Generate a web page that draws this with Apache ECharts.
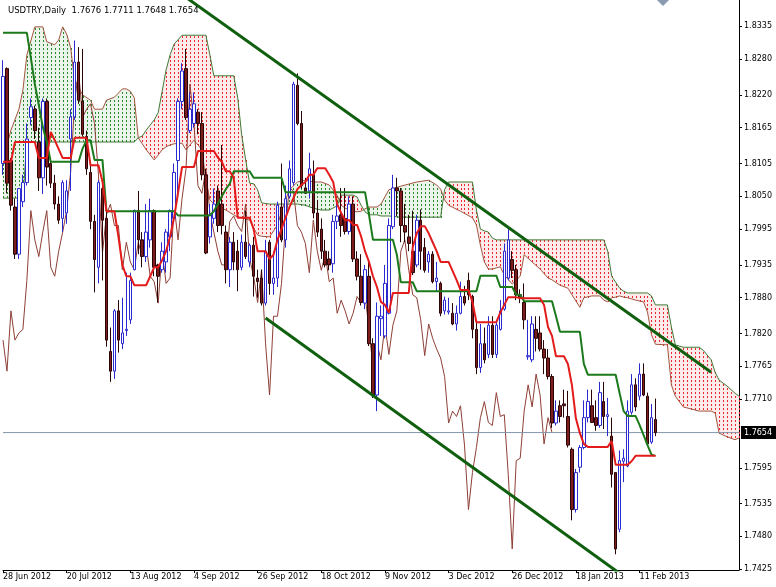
<!DOCTYPE html>
<html><head><meta charset="utf-8">
<script src="https://cdn.jsdelivr.net/npm/echarts@6/dist/echarts.min.js"></script>
<style>html,body{margin:0;padding:0;background:#fff}#c{width:776px;height:587px}</style>
</head><body><div id="c"></div>
<script>
const symbolName = 'USDTRY,Daily';
const tickDates = ['28 Jun 2012','20 Jul 2012','13 Aug 2012','4 Sep 2012','26 Sep 2012','18 Oct 2012','9 Nov 2012','3 Dec 2012','26 Dec 2012','18 Jan 2013','11 Feb 2013'];
const barsPerTick = 16;
const totalSlots = 186;
const chikouShift = 26;
const yTickLabels = ['1.8335','1.8280','1.8220','1.8165','1.8105','1.8050','1.7995','1.7935','1.7880','1.7820','1.7765','1.7710','1.7595','1.7535','1.7480','1.7425'];
const yMin = 1.74237, yMax = 1.8379;

const opens = [
1.8105,1.8264,1.8110,1.8032,1.7953,1.8041,1.8073,1.8182,1.8196,1.8141,
1.8081,1.8209,1.8105,1.8072,1.8037,1.8013,1.8022,1.8146,1.8183,1.8275,
1.8209,1.8150,1.8090,1.8008,1.7931,1.8063,1.8013,1.7790,1.7757,1.7858,
1.7803,1.7825,1.7843,1.7927,1.8026,1.7977,1.7949,1.7977,1.8026,1.7935,
1.7927,1.7940,1.7982,1.8013,1.8110,1.8209,1.8264,1.8160,1.8172,1.8191,
1.8172,1.8086,1.7982,1.8013,1.8059,1.8037,1.7990,1.7927,1.7973,1.7958,
1.7931,1.7973,1.7940,1.7968,1.7913,1.7913,1.7871,1.7973,1.7904,1.7913,
1.8032,1.7977,1.8050,1.8073,1.8236,1.8172,1.8064,1.8059,1.8086,1.8022,
1.7995,1.7958,1.7945,1.7937,1.8008,1.8019,1.8013,1.7991,1.8037,1.7945,
1.7916,1.7871,1.7916,1.7803,1.7717,1.7845,1.7816,1.7854,1.7999,1.8064,
1.8059,1.8001,1.7982,1.7958,1.7935,1.8010,1.7964,1.7940,1.7953,1.7907,
1.7904,1.7858,1.7856,1.7854,1.7836,1.7854,1.7882,1.7909,1.7882,1.7827,
1.7763,1.7803,1.7785,1.7834,1.7785,1.7827,1.7861,1.7913,1.7944,1.7927,
1.7885,1.7872,1.7781,1.7776,1.7827,1.7821,1.7794,1.7779,1.7748,1.7670,
1.7699,1.7702,1.7681,1.7626,1.7525,1.7596,1.7629,1.7679,1.7699,1.7679,
1.7666,1.7706,1.7681,1.7648,1.7587,1.7492,1.7606,1.7598,1.7688,1.7734,
1.7715,1.7752,1.7715,1.7638,1.7676];
const highs = [
1.8278,1.8266,1.8114,1.8046,1.8064,1.8086,1.8172,1.8214,1.8202,1.8165,
1.8214,1.8214,1.8114,1.8086,1.8050,1.8077,1.8077,1.8196,1.8311,1.8300,
1.8297,1.8160,1.8105,1.8019,1.8077,1.8068,1.8026,1.7830,1.7861,1.7876,
1.7880,1.7922,1.7922,1.8028,1.8059,1.7990,1.8037,1.8046,1.8028,1.7937,
1.7973,1.7995,1.8028,1.8105,1.8214,1.8273,1.8297,1.8224,1.8224,1.8196,
1.8191,1.8096,1.8037,1.8063,1.8068,1.8136,1.8001,1.7982,1.7990,1.7977,
1.7986,1.8026,1.7971,1.7982,1.7927,1.7927,1.7977,1.7977,1.7958,1.8041,
1.8105,1.8068,1.8110,1.8242,1.8256,1.8193,1.8081,1.8123,1.8110,1.8044,
1.8013,1.7977,1.7958,1.8019,1.8050,1.8064,1.8064,1.8050,1.8050,1.7958,
1.7953,1.7935,1.7940,1.7812,1.7872,1.7867,1.7935,1.8013,1.8086,1.8081,
1.8064,1.8037,1.8019,1.8026,1.8019,1.8028,1.7980,1.7958,1.7958,1.7940,
1.7907,1.7882,1.7880,1.7871,1.7867,1.7907,1.7900,1.7922,1.7885,1.7843,
1.7836,1.7830,1.7849,1.7849,1.7843,1.7876,1.7971,1.7995,1.7958,1.7935,
1.7894,1.7904,1.7843,1.7849,1.7849,1.7849,1.7809,1.7794,1.7752,1.7708,
1.7708,1.7726,1.7724,1.7629,1.7593,1.7633,1.7708,1.7726,1.7726,1.7708,
1.7739,1.7739,1.7712,1.7679,1.7587,1.7624,1.7626,1.7708,1.7752,1.7745,
1.7770,1.7770,1.7721,1.7702,1.7711];
const lows = [
1.8086,1.8055,1.8026,1.7945,1.7945,1.8032,1.8068,1.8169,1.8146,1.8059,
1.8054,1.8068,1.8064,1.8028,1.8004,1.7990,1.8004,1.8059,1.8178,1.8205,
1.8150,1.8086,1.7995,1.7889,1.7904,1.7909,1.7798,1.7739,1.7744,1.7788,
1.7794,1.7816,1.7836,1.7926,1.7953,1.7931,1.7940,1.7964,1.7916,1.7872,
1.7922,1.7922,1.7958,1.8008,1.8055,1.8196,1.8178,1.8156,1.8165,1.8154,
1.8077,1.7953,1.7971,1.8004,1.7990,1.7986,1.7904,1.7898,1.7926,1.7891,
1.7926,1.7945,1.7931,1.7882,1.7880,1.7867,1.7867,1.7885,1.7885,1.7898,
1.7973,1.7964,1.8046,1.8068,1.8169,1.8063,1.8054,1.8046,1.8013,1.7982,
1.7945,1.7931,1.7926,1.7922,1.7995,1.7982,1.7986,1.7986,1.7940,1.7909,
1.7867,1.7861,1.7799,1.7712,1.7690,1.7816,1.7812,1.7852,1.7995,1.8017,
1.7973,1.7973,1.7958,1.7918,1.7931,1.7927,1.7922,1.7922,1.7904,1.7891,
1.7849,1.7852,1.7852,1.7834,1.7825,1.7852,1.7867,1.7876,1.7812,1.7752,
1.7754,1.7770,1.7779,1.7779,1.7779,1.7825,1.7858,1.7909,1.7913,1.7876,
1.7871,1.7827,1.7776,1.7772,1.7790,1.7790,1.7752,1.7743,1.7662,1.7666,
1.7671,1.7679,1.7629,1.7507,1.7520,1.7587,1.7626,1.7671,1.7670,1.7657,
1.7662,1.7660,1.7648,1.7562,1.7450,1.7487,1.7571,1.7596,1.7684,1.7690,
1.7708,1.7715,1.7633,1.7635,1.7648];
const closes = [
1.8251,1.8072,1.8035,1.7953,1.8063,1.8073,1.8146,1.8200,1.8160,1.8081,
1.8209,1.8099,1.8072,1.8037,1.8010,1.8073,1.8059,1.8183,1.8275,1.8211,
1.8154,1.8096,1.8008,1.7944,1.8073,1.8010,1.7809,1.7757,1.7858,1.7809,
1.7821,1.7827,1.7909,1.8026,1.7977,1.7949,1.7990,1.8026,1.7931,1.7916,
1.7958,1.7990,1.8026,1.8090,1.8209,1.8260,1.8182,1.8196,1.8205,1.8172,
1.8086,1.7955,1.8019,1.8037,1.8001,1.8001,1.7927,1.7973,1.7940,1.7927,
1.7973,1.7949,1.7968,1.7916,1.7907,1.7871,1.7958,1.7904,1.7913,1.8035,
1.7977,1.8046,1.8096,1.8238,1.8172,1.8068,1.8055,1.8096,1.8022,1.7990,
1.7958,1.7935,1.7935,1.8008,1.8017,1.8001,1.7991,1.8037,1.7945,1.7916,
1.7872,1.7927,1.7803,1.7717,1.7849,1.7849,1.7904,1.8001,1.8064,1.8059,
1.8001,1.7990,1.7971,1.7922,1.8010,1.7958,1.7926,1.7953,1.7907,1.7913,
1.7854,1.7876,1.7858,1.7836,1.7854,1.7882,1.7871,1.7885,1.7827,1.7763,
1.7803,1.7776,1.7834,1.7785,1.7834,1.7858,1.7958,1.7977,1.7926,1.7885,
1.7880,1.7843,1.7783,1.7836,1.7812,1.7794,1.7779,1.7748,1.7670,1.7690,
1.7681,1.7699,1.7633,1.7525,1.7587,1.7629,1.7679,1.7706,1.7671,1.7666,
1.7721,1.7681,1.7684,1.7584,1.7459,1.7607,1.7611,1.7690,1.7734,1.7697,
1.7752,1.7717,1.7635,1.7679,1.7654];

const tenkan = [
1.8108,1.8108,1.8108,1.8141,1.8141,1.8141,1.8141,1.8141,1.8141,1.8114,
1.8114,1.8114,1.8158,1.8144,1.8129,1.8114,1.8114,1.8114,1.8148,1.8148,
1.8148,1.8148,1.8102,1.8102,1.8102,1.8075,1.8025,1.8025,1.8025,1.7983,
1.7935,1.7916,1.7916,1.7901,1.7901,1.7901,1.7901,1.7916,1.7931,1.7931,
1.7943,1.7958,1.7983,1.8014,1.8056,1.8099,1.8099,1.8099,1.8099,1.8126,
1.8126,1.8126,1.8126,1.8126,1.8115,1.8108,1.8092,1.8092,1.8081,1.8014,
1.8014,1.8014,1.8014,1.7995,1.7958,1.7958,1.7958,1.7945,1.7952,1.7977,
1.7995,1.8014,1.8032,1.8047,1.8062,1.8069,1.8074,1.8086,1.8086,1.8097,
1.8097,1.8097,1.8086,1.8074,1.8037,1.8022,1.8010,1.8010,1.8002,1.8002,
1.7983,1.7958,1.7940,1.7916,1.7898,1.7873,1.7868,1.7855,1.7888,1.7888,
1.7888,1.7888,1.7888,1.7965,1.7988,1.8000,1.8000,1.7988,1.7973,1.7958,
1.7940,1.7940,1.7940,1.7925,1.7910,1.7893,1.7893,1.7893,1.7873,1.7839,
1.7839,1.7839,1.7839,1.7839,1.7839,1.7855,1.7868,1.7881,1.7881,1.7881,
1.7879,1.7879,1.7879,1.7879,1.7879,1.7879,1.7868,1.7831,1.7816,1.7782,
1.7782,1.7782,1.7769,1.7734,1.7678,1.7653,1.7635,1.7630,1.7630,1.7630,
1.7630,1.7630,1.7630,1.7640,1.7600,1.7600,1.7600,1.7600,1.7606,1.7615,
1.7615,1.7615,1.7615,1.7615,1.7615];
const kijun = [
1.8324,1.8324,1.8324,1.8324,1.8324,1.8324,1.8324,1.8282,1.8238,1.8203,
1.8166,1.8141,1.8108,1.8108,1.8108,1.8108,1.8108,1.8108,1.8108,1.8108,
1.8130,1.8144,1.8144,1.8111,1.8111,1.8111,1.8025,1.8025,1.8025,1.8025,
1.8025,1.8025,1.8025,1.8025,1.8025,1.8025,1.8025,1.8025,1.8025,1.8025,
1.8025,1.8025,1.8025,1.8025,1.8018,1.8018,1.8018,1.8018,1.8018,1.8018,
1.8018,1.8018,1.8018,1.8025,1.8037,1.8050,1.8062,1.8071,1.8092,1.8092,
1.8092,1.8092,1.8092,1.8081,1.8081,1.8081,1.8081,1.8081,1.8081,1.8081,
1.8081,1.8057,1.8057,1.8057,1.8057,1.8057,1.8057,1.8057,1.8057,1.8057,
1.8057,1.8057,1.8057,1.8057,1.8057,1.8057,1.8057,1.8057,1.8057,1.8057,
1.8057,1.8057,1.8019,1.7977,1.7977,1.7977,1.7977,1.7977,1.7977,1.7952,
1.7906,1.7906,1.7906,1.7906,1.7891,1.7891,1.7891,1.7891,1.7891,1.7891,
1.7891,1.7891,1.7891,1.7891,1.7891,1.7891,1.7891,1.7891,1.7891,1.7891,
1.7917,1.7917,1.7917,1.7917,1.7917,1.7898,1.7898,1.7898,1.7898,1.7885,
1.7885,1.7874,1.7874,1.7874,1.7874,1.7874,1.7874,1.7874,1.7874,1.7849,
1.7823,1.7823,1.7823,1.7823,1.7823,1.7823,1.7769,1.7751,1.7751,1.7751,
1.7751,1.7751,1.7751,1.7751,1.7751,1.7720,1.7690,1.7682,1.7682,1.7682,
1.7667,1.7650,1.7633,1.7617,1.7615];

const cloudBars = [0,2,4,5,6,8,10,11,13,14,15,16,17,18,20,22,23,25,26,28,29,30,31,32,33,34,35,36,38,39,40,41,42,43,45,46,48,50,51,52,53,54,56,58,59,60,61,62,63,64,65,67,69,70,71,72,74,76,78,80,82,84,85,86,88,89,90,91,92,94,95,97,100,104,107,109,110,111,112,115,118,119,120,121,122,123,124,125,126,128,130,131,133,135,137,138,140,142,143,145,146,148,150,151,152,153,154,155,156,157,159,161,162,163,164,167,168,169,171,175,176,178,179,180,182,184,185];
const spanA = [1.8111,1.8161,1.8196,1.8228,1.8287,1.8334,1.8334,1.8309,1.8304,1.8312,1.8334,1.8322,1.8299,1.8245,1.8220,1.8211,1.8196,1.8196,1.8211,1.8216,1.8223,1.8230,1.8230,1.8226,1.8215,1.8148,1.8138,1.8128,1.8111,1.8119,1.8128,1.8133,1.8136,1.8138,1.8139,1.8128,1.8144,1.8128,1.8077,1.8044,1.8037,1.8032,1.8027,1.8019,1.8015,1.8014,1.8012,1.8010,1.7997,1.7985,1.7983,1.7982,1.8002,1.8024,1.8044,1.8061,1.8074,1.8077,1.8074,1.8074,1.8069,1.8052,1.8035,1.8030,1.8025,1.8024,1.8025,1.8029,1.8032,1.8032,1.8037,1.8061,1.8067,1.8074,1.8077,1.8069,1.8062,1.8044,1.8035,1.8025,1.8014,1.8002,1.7968,1.7940,1.7928,1.7928,1.7930,1.7932,1.7918,1.7903,1.7916,1.7952,1.7940,1.7928,1.7913,1.7910,1.7901,1.7896,1.7885,1.7864,1.7880,1.7883,1.7883,1.7876,1.7873,1.7880,1.7881,1.7883,1.7881,1.7880,1.7876,1.7873,1.7856,1.7818,1.7802,1.7801,1.7734,1.7715,1.7697,1.7690,1.7690,1.7690,1.7687,1.7653,1.7647,1.7642,1.7645];
const spanB = [1.8047,1.8047,1.8047,1.8047,1.8141,1.8141,1.8141,1.8141,1.8141,1.8141,1.8141,1.8141,1.8141,1.8141,1.8141,1.8141,1.8141,1.8141,1.8141,1.8141,1.8141,1.8141,1.8141,1.8141,1.8141,1.8148,1.8151,1.8161,1.8178,1.8190,1.8226,1.8262,1.8287,1.8305,1.8320,1.8320,1.8320,1.8320,1.8320,1.8287,1.8252,1.8252,1.8252,1.8252,1.8215,1.8153,1.8111,1.8072,1.8071,1.8061,1.8039,1.8037,1.8037,1.8037,1.8037,1.8037,1.8037,1.8035,1.8030,1.8027,1.8027,1.8034,1.8052,1.8052,1.8052,1.8049,1.8035,1.8024,1.8019,1.8019,1.8017,1.8017,1.8015,1.8015,1.8015,1.8015,1.8015,1.8061,1.8074,1.8074,1.8074,1.8027,1.7995,1.7992,1.7990,1.7980,1.7977,1.7977,1.7977,1.7977,1.7977,1.7977,1.7977,1.7977,1.7977,1.7977,1.7977,1.7977,1.7977,1.7977,1.7977,1.7977,1.7977,1.7977,1.7958,1.7916,1.7906,1.7896,1.7891,1.7888,1.7888,1.7888,1.7888,1.7883,1.7868,1.7868,1.7831,1.7801,1.7797,1.7797,1.7792,1.7776,1.7755,1.7742,1.7732,1.7720,1.7715];

const trendUpper = [[40, 1.8412], [178, 1.7755]];
const trendLower = [[66, 1.7846], [160, 1.7394]];

// ---- build ----
const FONT = 'DejaVu Sans';
const categories = [];
for (let i = 0; i < totalSlots; i++) {
  const t = i / barsPerTick;
  categories.push(i % barsPerTick === 0 && t < tickDates.length ? tickDates[t] : 'slot' + i);
}
const isTick = (idx) => idx % barsPerTick === 0 && idx / barsPerTick < tickDates.length;
const candleData = opens.map((o, i) => [o, closes[i], lows[i], highs[i]]);
const chikou = closes.slice(chikouShift);
const yTickValues = yTickLabels.map(Number);
const last = closes.length - 1;
const lastClose = closes[last];
const priceLine = [[0, lastClose], [totalSlots - 1, lastClose]];
const BULL_DOT = '#2a8a2a', BEAR_DOT = '#e8282d';
const BULL_TINT = 'rgba(60,150,60,0.10)', BEAR_TINT = 'rgba(235,60,60,0.10)';

// light tint between span lines (split where the spans cross)
function renderTint(params, api) {
  const k = params.dataIndex;
  if (k >= cloudBars.length - 1) return;
  const pa0 = api.coord([cloudBars[k], spanA[k]]), pa1 = api.coord([cloudBars[k + 1], spanA[k + 1]]);
  const pb0 = api.coord([cloudBars[k], spanB[k]]), pb1 = api.coord([cloudBars[k + 1], spanB[k + 1]]);
  const d0 = spanA[k] - spanB[k], d1 = spanA[k + 1] - spanB[k + 1];
  const children = [];
  const add = (pts, up) => children.push({ type: 'polygon', shape: { points: pts }, style: { fill: up ? BULL_TINT : BEAR_TINT } });
  if (d0 * d1 < 0) {
    const t = d0 / (d0 - d1);
    const m = [pa0[0] + t * (pa1[0] - pa0[0]), pa0[1] + t * (pa1[1] - pa0[1])];
    add([pa0, m, pb0], d0 > 0);
    add([m, pa1, pb1], d1 > 0);
  } else {
    add([pa0, pa1, pb1, pb0], (d0 + d1) >= 0);
  }
  return { type: 'group', children };
}

// dotted hatching: one dotted vertical rule per bar slot between the span lines
function makeCloudRenderer(kind) {
  return function (params, api) {
    const k = params.dataIndex;
    if (k >= cloudBars.length - 1) return;
    const b0 = cloudBars[k], b1 = cloudBars[k + 1];
    const pa0 = api.coord([b0, spanA[k]]), pa1 = api.coord([b1, spanA[k + 1]]);
    const pb0 = api.coord([b0, spanB[k]]), pb1 = api.coord([b1, spanB[k + 1]]);
    const children = [];
    const endJ = (k === cloudBars.length - 2) ? b1 : b1 - 1;
    for (let j = b0; j <= endJ; j++) {
      const t = (j - b0) / (b1 - b0);
      const x = Math.round(pa0[0] + t * (pa1[0] - pa0[0]));
      const ya = pa0[1] + t * (pa1[1] - pa0[1]);
      const yb = pb0[1] + t * (pb1[1] - pb0[1]);
      const up = ya < yb;
      if ((kind === 'bull') !== up) continue;
      const top = Math.round(Math.min(ya, yb)), bot = Math.round(Math.max(ya, yb));
      for (let y = top + ((4 - (top % 4)) % 4); y < bot; y += 4) {
        children.push({ type: 'rect', shape: { x: x, y: y, width: 1, height: 2 }, style: { fill: kind === 'bull' ? BULL_DOT : BEAR_DOT } });
      }
    }
    return { type: 'group', children };
  };
}

const chart = echarts.init(document.getElementById('c'), null, { renderer: 'canvas' });
chart.setOption({
  animation: false,
  backgroundColor: '#fff',
  title: {
    text: symbolName + '  ' + [opens[last], highs[last], lows[last], closes[last]].map(v => v.toFixed(4)).join(' '),
    left: 3, top: 1,
    textStyle: { fontFamily: FONT, fontSize: 8.5, fontWeight: 'normal', color: '#000' }
  },
  grid: { left: -1, right: 37, top: 0, bottom: 17, containLabel: false },
  xAxis: {
    type: 'category', data: categories, boundaryGap: false,
    axisLine: { lineStyle: { color: '#000', width: 1 } },
    axisTick: { show: true, interval: isTick, length: 3, lineStyle: { color: '#000' } },
    axisLabel: { interval: isTick, formatter: v => v, align: 'left', margin: 3, fontFamily: FONT, fontSize: 8, color: '#000' },
    splitLine: { show: false }
  },
  yAxis: {
    type: 'value', position: 'right', min: yMin, max: yMax, scale: true,
    axisLine: { show: true, lineStyle: { color: '#000', width: 1 } },
    axisTick: { show: true, customValues: yTickValues, length: 3, lineStyle: { color: '#000' } },
    axisLabel: { customValues: yTickValues, formatter: v => v.toFixed(4), margin: 5, fontFamily: FONT, fontSize: 8, color: '#000' },
    splitLine: { show: false }
  },
  graphic: [{ type: 'polygon', shape: { points: [[657, 0], [669, 0], [663, 6]] }, style: { fill: '#8a9bb0' }, z: 100 }],
  series: [
    { type: 'custom', name: 'cloudTint', renderItem: renderTint, data: cloudBars.map((b, i) => [b, spanA[i]]), encode: { x: 0, y: 1 }, z: 0, silent: true, clip: false },
    { type: 'custom', name: 'cloudBull', renderItem: makeCloudRenderer('bull'), data: cloudBars.map((b, i) => [b, spanA[i]]), encode: { x: 0, y: 1 }, itemStyle: { color: BULL_DOT }, z: 1, silent: true, clip: false },
    { type: 'custom', name: 'cloudBear', renderItem: makeCloudRenderer('bear'), data: cloudBars.map((b, i) => [b, spanB[i]]), encode: { x: 0, y: 1 }, itemStyle: { color: BEAR_DOT }, z: 1, silent: true, clip: false },
    { type: 'line', name: 'spanA', data: cloudBars.map((b, i) => [b, spanA[i]]), symbol: 'none', lineStyle: { color: '#a3553f', width: 1 }, z: 2, silent: true },
    { type: 'line', name: 'spanB', data: cloudBars.map((b, i) => [b, spanB[i]]), symbol: 'none', lineStyle: { color: '#3f7a35', width: 1 }, z: 2, silent: true },
    { type: 'line', name: 'chikou', data: chikou, symbol: 'none', lineStyle: { color: '#8e3f36', width: 1 }, z: 2, silent: true },
    {
      type: 'line', name: 'priceLine', data: priceLine, symbol: 'none', z: 2, silent: true, clip: false,
      lineStyle: { color: '#8496aa', width: 1 },
      endLabel: { show: true, distance: 2, formatter: () => lastClose.toFixed(4), backgroundColor: '#000', color: '#fff', padding: [3, 4, 2, 3], fontFamily: FONT, fontSize: 8 }
    },
    {
      type: 'candlestick', name: 'USDTRY', data: candleData, barWidth: 3, z: 3,
      itemStyle: { color: '#ffffff', color0: '#7d1c1c', borderColor: '#2a2ad0', borderColor0: '#2a0505', borderWidth: 1 }
    },
    { type: 'line', name: 'kijun', data: kijun, symbol: 'none', lineStyle: { color: '#1b7a1b', width: 2 }, z: 4, silent: true },
    { type: 'line', name: 'tenkan', data: tenkan, symbol: 'none', lineStyle: { color: '#e31b1b', width: 2 }, z: 4, silent: true },
    { type: 'line', name: 'trendUpper', data: trendUpper, symbol: 'none', lineStyle: { color: '#0f5f0f', width: 3 }, z: 5, silent: true, clip: true },
    { type: 'line', name: 'trendLower', data: trendLower, symbol: 'none', lineStyle: { color: '#0f5f0f', width: 3 }, z: 5, silent: true, clip: true }
  ]
});
</script></body></html>
